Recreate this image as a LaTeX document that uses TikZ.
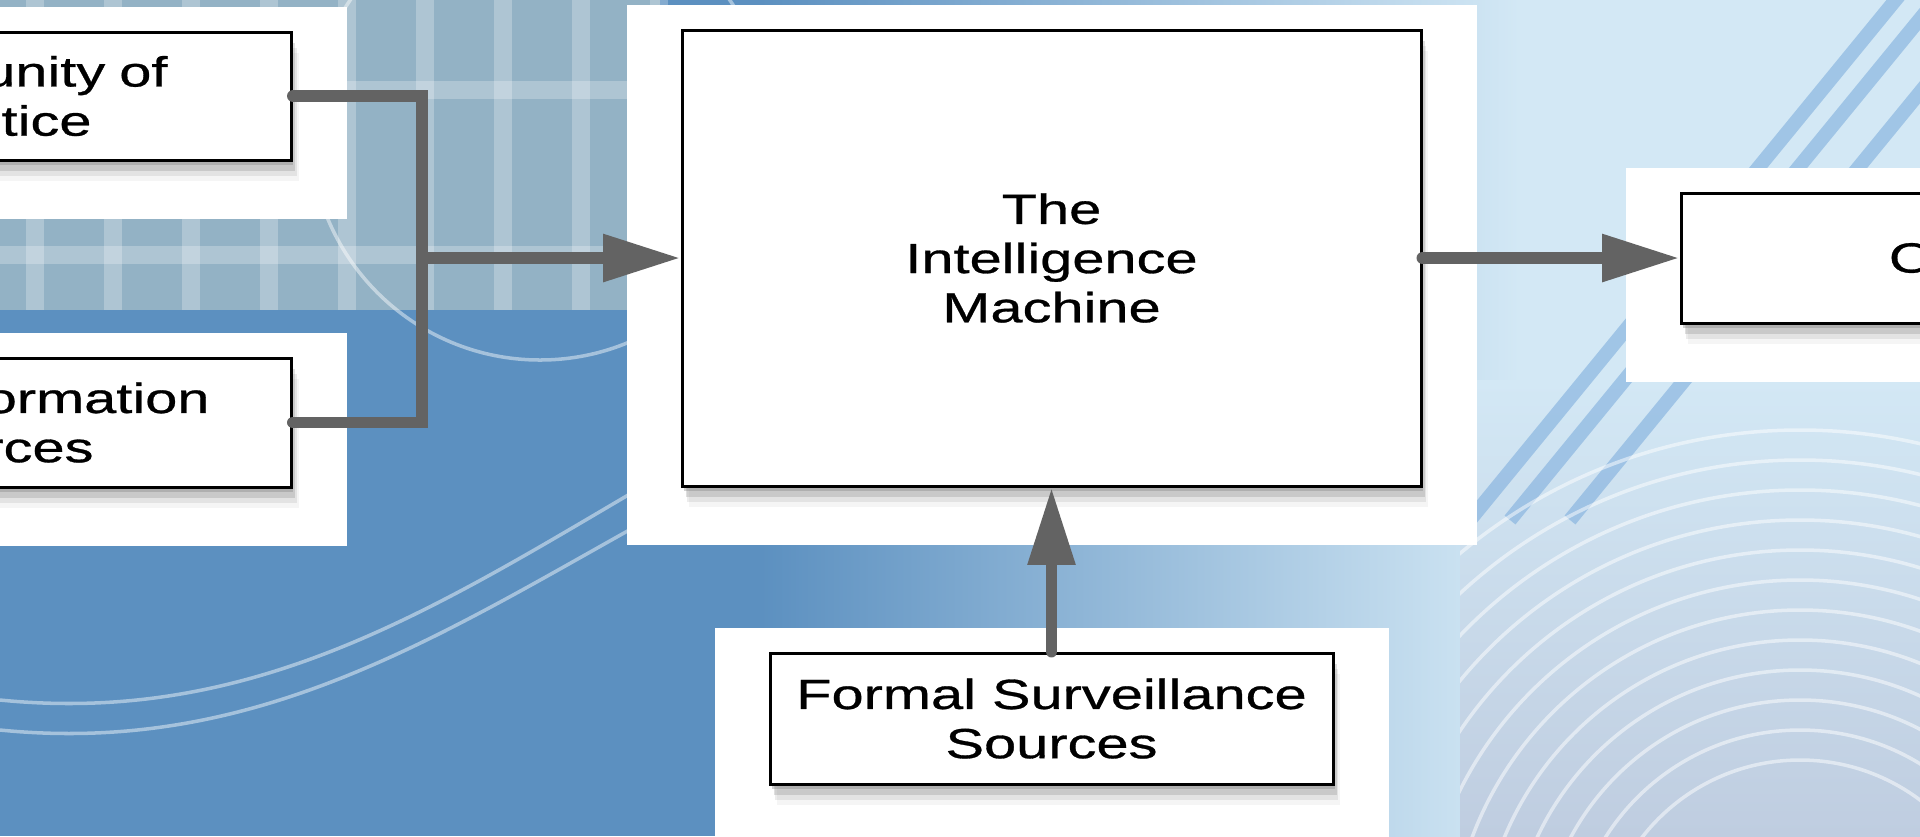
\documentclass[tikz,border=0pt]{standalone}
\usepackage{fontspec}
\setmainfont[FakeStretch=1.37, FakeBold=0.7]{Liberation Sans}
\usepackage{tikz}
\usetikzlibrary{arrows.meta,positioning,calc,backgrounds,shadows}
\definecolor{arrGray}{HTML}{636363}
\definecolor{bgSteel}{HTML}{5C90C0}
\definecolor{bgPale}{HTML}{D3E8F5}
\definecolor{bgGrid}{HTML}{93B2C5}
\definecolor{bgHaze}{HTML}{BFCDE0}
\definecolor{bgStripe}{HTML}{7FAEDD}

\begin{document}
\begin{tikzpicture}[
        box/.style={draw, line width=0.85pt, fill=white, align=center, inner sep=0pt,
                    font=\fontsize{12}{14}\selectfont,
                    drop shadow={shadow xshift=.5pt, shadow yshift=-1.5pt, opacity=.35},
                    drop shadow={shadow xshift=1pt, shadow yshift=-3pt, opacity=.25},
                    drop shadow={shadow xshift=1.5pt, shadow yshift=-4.5pt, opacity=.15},
                    drop shadow={shadow xshift=2pt, shadow yshift=-6pt, opacity=.08}},
        arr/.style={-{Triangle[length=22pt, width=12.8pt]}, line width=3.4pt, arrGray, line cap=round},
        feed/.style={line width=3.4pt, arrGray, line cap=round},
    ]
        \useasboundingbox (0,0) rectangle (19.2,-8.36);

        \node[box, minimum width=7.39cm, minimum height=4.56cm] (im) at (10.515,-2.58) {The\\Intelligence\\Machine};
        \node[box, minimum width=5.63cm, minimum height=1.31cm, below=1.64cm of im] (fs) {Formal Surveillance\\Sources};
        \node[box, align=left, text width=2cm, inner xsep=2.08cm, minimum height=1.30cm, right=2.57cm of im] (out) {O};
        \node[box, anchor=east, align=right, text width=3cm, inner xsep=1.24cm, minimum height=1.28cm] (cop) at (2.93,-0.96) {unity of\\tice\rule{0.76cm}{0pt}};
        \node[box, anchor=east, align=right, text width=3cm, inner xsep=0.82cm, minimum height=1.29cm] (ois) at (2.93,-4.225) {ormation\\rces\rule{1.16cm}{0pt}};

        \coordinate (jn) at (4.22,-2.58);
        \draw[feed] (cop.east) -| (jn) |- (ois.east);
        \draw[arr] (jn) -- (im.west);
        \draw[arr] (im.east) -- (out.west);
        \draw[arr] (fs.north) -- (im.south);

        \begin{scope}[on background layer]
            % backdrop
            \fill[bgSteel] (0,0) rectangle (7.6,-8.36);
            \shade[left color=bgSteel, right color=bgPale] (7.6,0) rectangle (15.2,-8.36);
            \fill[bgPale] (15.2,0) rectangle (19.2,-8.36);
            \shade[top color=bgPale, bottom color=bgHaze] (14.6,-3.8) rectangle (19.2,-8.36);
            \fill[bgGrid] (0,0) rectangle (6.6,-3.1);
            \foreach \gx in {0.35,1.13,...,6.6}
                \draw[white, opacity=.25, line width=5pt] (\gx,0) -- (\gx,-3.1);
            \foreach \gy in {-0.9,-2.55}
                \draw[white, opacity=.25, line width=5pt] (0,\gy) -- (6.6,\gy);
            \draw[white, opacity=.45, line width=1pt] (5.4,-1.3) circle (2.3);
            \draw[white, opacity=.45, line width=1pt] (0,-7.0) .. controls (3,-7.3) and (5,-5.6) .. (7.6,-4.2);
            \draw[white, opacity=.45, line width=1pt] (0,-7.3) .. controls (3,-7.6) and (5,-5.9) .. (7.6,-4.6);
            \foreach \o in {0,0.4,1.0}
                \draw[bgStripe, opacity=.6, line width=4pt] (14.7+\o,-5.2) -- (19.2+\o,0.3);
            \begin{scope}
                \clip (14.6,-3.8) rectangle (19.2,-8.36);
                \foreach \r in {2.0,2.3,...,5.6}
                    \draw[white, opacity=.5, line width=1pt] (18.0,-9.6) circle (\r);
            \end{scope}
            % white panels
            \foreach \n in {cop,ois,im,out,fs}
                \fill[white] ($(\n.north west)+(-0.54,0.24)$) rectangle ($(\n.south east)+(0.54,-0.57)$);
        \end{scope}
    \end{tikzpicture}
\end{document}
